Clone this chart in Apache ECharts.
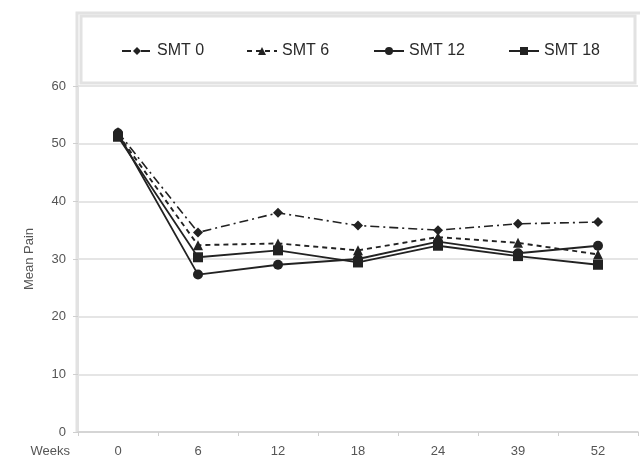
<!DOCTYPE html>
<html>
<head>
<meta charset="utf-8">
<script src="https://cdn.jsdelivr.net/npm/echarts@6/dist/echarts.min.js"></script>
<style>
html,body{margin:0;padding:0;background:#fff;}
#chart{width:640px;height:460px;}
</style>
</head>
<body>
<div id="chart"></div>
<script>
var weeks = ['0', '6', '12', '18', '24', '39', '52'];
var seriesNames = ['SMT 0', 'SMT 6', 'SMT 12', 'SMT 18'];
var smt0 = [52.0, 34.6, 38.0, 35.8, 35.0, 36.1, 36.4];
var smt6 = [51.6, 32.4, 32.7, 31.5, 33.8, 32.8, 30.8];
var smt12 = [51.8, 27.3, 29.0, 30.0, 33.0, 31.0, 32.3];
var smt18 = [51.2, 30.3, 31.5, 29.4, 32.3, 30.5, 29.0];
var yTicks = [0, 10, 20, 30, 40, 50, 60];

var chart = echarts.init(document.getElementById('chart'));
var ink = '#222';
function mk(name, data, symbol, size, ltype, lw) {
  return {
    name: name, type: 'line', data: data,
    symbol: symbol, symbolSize: size,
    itemStyle: {color: ink},
    lineStyle: {color: ink, width: lw, type: ltype},
    animation: false
  };
}
var legendLefts = [116, 241, 368, 503];
var legends = seriesNames.map(function (n, i) {
  return {
    data: [n], top: 38, left: legendLefts[i],
    itemWidth: 30, itemHeight: 10, itemGap: 0,
    textStyle: {fontFamily: 'Liberation Sans, Arial', fontSize: 16, color: '#2a2a2a'},
    z: 10
  };
});
chart.setOption({
  backgroundColor: '#ffffff',
  animation: false,
  graphic: [
    {type: 'polyline', shape: {points: [[77, 432], [77, 13], [640, 13]]}, style: {stroke: '#e2e2e2', lineWidth: 3, fill: null}, silent: true},
    {type: 'rect', shape: {x: 81, y: 16, width: 554, height: 67}, style: {stroke: '#e2e2e2', lineWidth: 3, fill: '#fff'}, silent: true}
  ],
  legend: legends,
  grid: {left: 78, right: 2, top: 86, bottom: 28, outerBoundsMode: 'none', containLabel: false},
  xAxis: {
    type: 'category', data: weeks, boundaryGap: true,
    name: 'Weeks', nameLocation: 'start', nameGap: 8,
    nameTextStyle: {fontFamily: 'Liberation Sans, Arial', fontSize: 13, color: '#555', verticalAlign: 'top', padding: [13, 0, 0, 0]},
    axisLine: {lineStyle: {color: '#cfcfcf', width: 1.5}},
    axisTick: {show: true, alignWithLabel: false, length: 4, lineStyle: {color: '#cfcfcf'}},
    axisLabel: {fontFamily: 'Liberation Sans, Arial', fontSize: 13, color: '#555', margin: 13}
  },
  yAxis: {
    type: 'value', min: 0, max: 60, interval: 10,
    name: 'Mean Pain', nameLocation: 'middle', nameGap: 42, nameRotate: 90,
    nameTextStyle: {fontFamily: 'Liberation Sans, Arial', fontSize: 13, color: '#555'},
    axisLine: {show: true, lineStyle: {color: '#e2e2e2', width: 1}},
    axisTick: {show: true, length: 5, lineStyle: {color: '#cfcfcf'}},
    axisLabel: {fontFamily: 'Liberation Sans, Arial', fontSize: 13, color: '#555', margin: 12,
      formatter: function (v) { return yTicks.indexOf(v) >= 0 ? String(v) : ''; }},
    splitLine: {lineStyle: {color: '#dcdcdc', width: 1.5}}
  },
  series: [
    mk(seriesNames[0], smt0, 'diamond', 10, [9, 4, 2, 4], 1.6),
    mk(seriesNames[1], smt6, 'triangle', 10, [5, 4], 1.9),
    mk(seriesNames[2], smt12, 'circle', 10, 'solid', 1.8),
    mk(seriesNames[3], smt18, 'rect', 10, 'solid', 1.8)
  ]
});
</script>
</body>
</html>
